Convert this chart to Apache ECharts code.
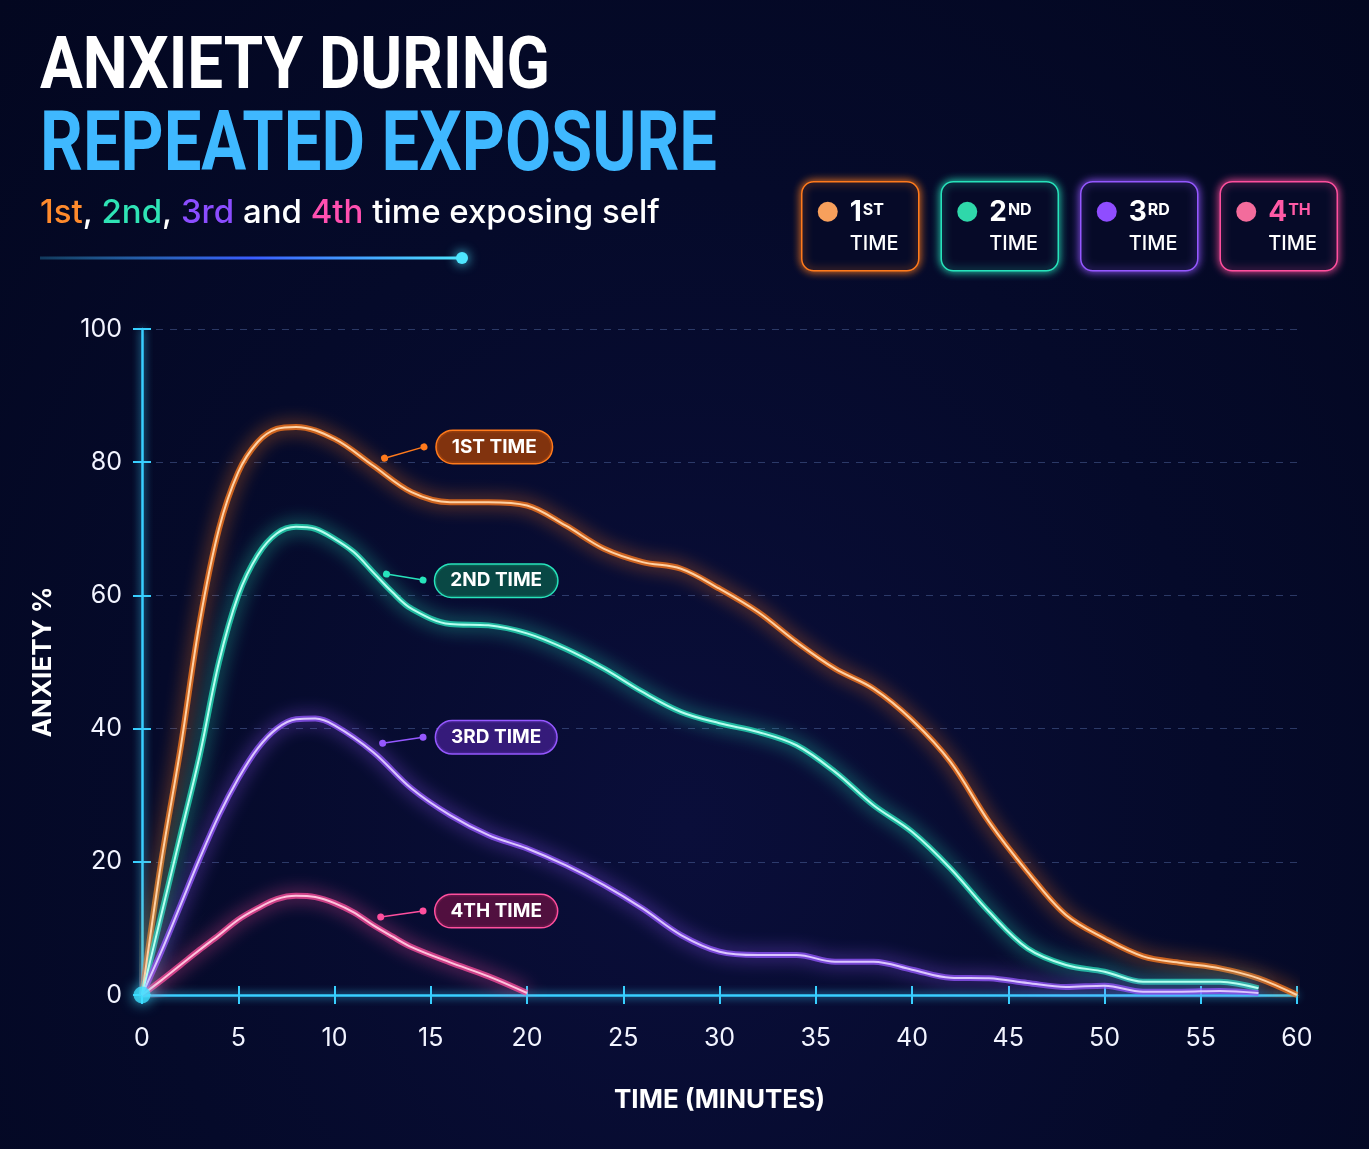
<!DOCTYPE html>
<html>
<head>
<meta charset="utf-8">
<script src="https://cdn.jsdelivr.net/npm/echarts@6/dist/echarts.min.js"></script>
<style>
  html, body { margin: 0; padding: 0; }
  #chart {
    width: 1369px; height: 1149px;
    background: radial-gradient(ellipse at 50% 72%, #0a0e3a 0%, #050a2a 55%, #030720 100%);
  }
</style>
</head>
<body>
<div id="chart"></div>
<script>
// --- data ---
const xTicks = [0, 60, 5]
const yTicks = [0, 100, 20]

const minutesFirst = [0,1,2,3,4,5,6,7,8,10,12,14,16,18,20,22,24,26,28,30,32,34,36,38,40,42,44,46,48,50,52,54,56,58,60]
const firstTime = [0,20,37,56,70,78.5,83,85,85.3,83.5,79.5,75.5,74,74,73.5,70.5,67,65,64,61,57.5,53,49,46,41.3,35,26,18.5,12,8.5,5.8,4.8,4,2.5,0]

const minutesSecond = [0,1,2,3,4,5,6,7,8,9,10,11,12,13,14,16,18,20,22,24,26,28,30,32,34,36,38,40,42,44,46,48,50,52,54,56,58]
const secondTime = [0,12,24,36,50,60,66,69.3,70.3,70,68.5,66.5,63.5,60.5,58,55.7,55.5,54.3,52,49,45.5,42.5,40.8,39.5,37.5,33.5,28.5,24.5,19,12.5,7,4.5,3.5,2,2,2,1]

const minutesThird = [0,1,2,3,4,5,6,7,8,9,10,12,14,16,18,20,22,24,26,28,30,32,34,36,38,40,42,44,46,48,50,52,54,56,58]
const thirdTime = [0,6.5,13.5,20.5,27,32.5,37,40,41.4,41.5,40.5,36.5,31,27,24,22,19.5,16.5,13,9,6.5,6,6,5,5,3.8,2.6,2.5,1.8,1.2,1.4,0.5,0.5,0.6,0.3]

const minutesFourth = [0,1,2,3,4,5,6,7,8,9,10,11,12,13,14,16,18,20]
const fourthTime = [0,2.2,4.5,6.8,9,11.3,13,14.4,14.9,14.7,13.8,12.4,10.5,8.8,7.2,4.9,2.8,0.3]

const seriesNames = ['1st time', '2nd time', '3rd time', '4th time']
const labelTexts = ['1ST TIME', '2ND TIME', '3RD TIME', '4TH TIME']
const legendNumbers = ['1', '2', '3', '4']
const legendSuffixes = ['ST', 'ND', 'RD', 'TH']
// callout positions in data coords [minute, value]
const labelCoords = [[18.3, 82.3], [18.4, 62.2], [18.4, 38.7], [18.4, 12.6]]
const connectorStarts = [[12.6, 80.6], [12.7, 63.2], [12.5, 37.8], [12.4, 11.7]]
const connectorEnds = [[14.65, 82.3], [14.6, 62.3], [14.6, 38.7], [14.6, 12.6]]

const lineColors = ['#ff7a1c', '#27e3bb', '#9558ff', '#ff4f9e']
const coreColors = ['#ffd2a6', '#b8fff0', '#dcc8ff', '#ffc4de']
const dotColors = ['#f7a05c', '#2fd8aa', '#8f4dff', '#f36c9c']
const pillBg = ['rgba(140,55,12,0.92)', 'rgba(10,78,70,0.92)', 'rgba(58,28,128,0.92)', 'rgba(88,16,64,0.92)']

const font = 'Inter, Roboto, sans-serif'
const titleFont = 'Roboto, sans-serif'

const chart = echarts.init(document.getElementById('chart'))

// measuring helper: used to squeeze the title and to place legend superscripts
const measureCtx = document.createElement('canvas').getContext('2d')
function textWidth (text, cssFont) {
  measureCtx.font = cssFont
  return measureCtx.measureText(text).width
}
function squeeze (text, cssFont, targetWidth) {
  return targetWidth / textWidth(text, cssFont)
}

const pairs = (xs, ys) => xs.map((x, i) => [x, ys[i]])
const allData = [
  pairs(minutesFirst, firstTime),
  pairs(minutesSecond, secondTime),
  pairs(minutesThird, thirdTime),
  pairs(minutesFourth, fourthTime)
]

const series = []
allData.forEach((data, i) => {
  // glow layer, carries the callout
  series.push({
    name: seriesNames[i],
    type: 'line',
    data: data,
    smooth: 0.35,
    symbol: 'none',
    z: 3,
    lineStyle: { color: lineColors[i], width: 6, opacity: 0.75, shadowBlur: 18, shadowColor: lineColors[i] },
    markLine: {
      silent: true,
      symbol: ['circle', 'circle'],
      symbolSize: 7,
      label: { show: false },
      lineStyle: { color: lineColors[i], width: 1.5, type: 'solid', opacity: 1 },
      data: [[{ coord: connectorStarts[i] }, { coord: connectorEnds[i] }]]
    },
    markPoint: {
      silent: true,
      symbol: 'circle',
      symbolSize: 2,
      itemStyle: { color: 'rgba(0,0,0,0)' },
      data: [{ coord: labelCoords[i] }],
      label: {
        show: true,
        position: 'inside',
        formatter: labelTexts[i],
        color: '#ffffff',
        fontFamily: font,
        fontWeight: 'bold',
        fontSize: 19,
        backgroundColor: pillBg[i],
        borderColor: lineColors[i],
        borderWidth: 1.5,
        borderRadius: 17,
        padding: [7, 15, 6, 15]
      }
    }
  })
  // bright core
  series.push({
    name: seriesNames[i] + ' core',
    type: 'line',
    data: data,
    smooth: 0.35,
    symbol: 'none',
    z: 4,
    lineStyle: { color: coreColors[i], width: 2 }
  })
})

series.push({
  type: 'scatter',
  data: [[minutesFirst[0], firstTime[0]]],
  symbolSize: 17,
  z: 6,
  itemStyle: { color: '#3fe0ff', shadowBlur: 14, shadowColor: '#3fe0ff' }
})

const axisCyan = '#38cfff'
const numFont = 'bold 28px ' + font

const legendGroups = legendNumbers.map((n, i) => ({
  type: 'group',
  left: 801 + i * 139.5,
  top: 181,
  children: [
    {
      type: 'rect',
      shape: { x: 0, y: 0, width: 117, height: 89, r: 12 },
      style: { fill: '#060a28', stroke: lineColors[i], lineWidth: 1.5, shadowBlur: 8, shadowColor: lineColors[i] }
    },
    { type: 'circle', shape: { cx: 26, cy: 30, r: 10 }, style: { fill: dotColors[i] } },
    {
      type: 'text',
      x: 48, y: 31,
      style: { text: n, fill: i === 3 ? '#ff5aa6' : '#ffffff', font: numFont, verticalAlign: 'middle' }
    },
    {
      type: 'text',
      x: 48 + textWidth(n, numFont) + 1, y: 20,
      style: { text: legendSuffixes[i], fill: i === 3 ? '#ff5aa6' : '#ffffff', font: 'bold 16px ' + font, verticalAlign: 'top' }
    },
    {
      type: 'text',
      x: 48, y: 62,
      style: { text: 'TIME', fill: '#ffffff', font: '500 20px ' + font, verticalAlign: 'middle' }
    }
  ]
}))

const title1Font = 'bold 73px ' + titleFont
const title2Font = 'bold 84px ' + titleFont

const option = {
  backgroundColor: 'transparent',
  animation: false,
  grid: { left: 142, right: 72, top: 329, bottom: 154, containLabel: false },
  xAxis: [
    {
      type: 'value', min: xTicks[0], max: xTicks[1], interval: xTicks[2],
      name: 'TIME (MINUTES)', nameLocation: 'middle', nameGap: 92,
      nameTextStyle: { color: '#ffffff', fontFamily: font, fontWeight: 'bold', fontSize: 26 },
      axisLine: { lineStyle: { color: axisCyan, width: 2.5, shadowBlur: 8, shadowColor: axisCyan } },
      axisTick: { show: true, length: 9, lineStyle: { color: axisCyan, width: 2 } },
      axisLabel: { color: '#f2f4ff', fontFamily: font, fontSize: 25, margin: 31 },
      splitLine: { show: false }
    },
    {
      type: 'value', position: 'bottom', min: xTicks[0], max: xTicks[1], interval: xTicks[2],
      axisLine: { show: false },
      axisTick: { show: true, inside: true, length: 9, lineStyle: { color: axisCyan, width: 2 } },
      axisLabel: { show: false },
      splitLine: { show: false }
    }
  ],
  yAxis: [
    {
      type: 'value', min: yTicks[0], max: yTicks[1], interval: yTicks[2],
      name: 'ANXIETY %', nameLocation: 'middle', nameGap: 86, nameRotate: 90,
      nameTextStyle: { color: '#ffffff', fontFamily: font, fontWeight: 'bold', fontSize: 26 },
      axisLine: { show: true, lineStyle: { color: axisCyan, width: 2.5, shadowBlur: 8, shadowColor: axisCyan } },
      axisTick: { show: true, length: 9, lineStyle: { color: axisCyan, width: 2 } },
      axisLabel: { color: '#f2f4ff', fontFamily: font, fontSize: 25, margin: 20 },
      splitLine: { show: true, lineStyle: { color: 'rgba(90,115,175,0.45)', width: 1, type: [7, 7] } }
    },
    {
      type: 'value', position: 'left', min: yTicks[0], max: yTicks[1], interval: yTicks[2],
      axisLine: { show: false },
      axisTick: { show: true, inside: true, length: 9, lineStyle: { color: axisCyan, width: 2 } },
      axisLabel: { show: false },
      splitLine: { show: false }
    }
  ],
  graphic: [
    {
      type: 'text', x: 40, y: 33,
      scaleX: squeeze('ANXIETY DURING', title1Font, 510),
      style: { text: 'ANXIETY DURING', fill: '#ffffff', font: title1Font, shadowBlur: 8, shadowColor: 'rgba(255,255,255,0.35)' }
    },
    {
      type: 'text', x: 40, y: 107,
      scaleX: squeeze('REPEATED EXPOSURE', title2Font, 677),
      style: {
        text: 'REPEATED EXPOSURE',
        font: title2Font,
        fill: '#3fb8ff',
        shadowBlur: 12, shadowColor: 'rgba(60,190,255,0.5)'
      }
    },
    {
      type: 'text', x: 40, y: 197,
      style: {
        text: '{a|1st}, {b|2nd}, {c|3rd} and {d|4th} time exposing self',
        font: '500 33px ' + font,
        fill: '#ffffff',
        rich: {
          a: { fill: '#ff8a2c', font: '500 33px ' + font },
          b: { fill: '#2fe3b5', font: '500 33px ' + font },
          c: { fill: '#8b4dff', font: '500 33px ' + font },
          d: { fill: '#ff4fb0', font: '500 33px ' + font }
        }
      }
    },
    {
      type: 'line',
      shape: { x1: 40, y1: 258, x2: 462, y2: 258 },
      style: {
        lineWidth: 3,
        stroke: new echarts.graphic.LinearGradient(0, 0, 1, 0, [
          { offset: 0, color: 'rgba(60,200,255,0.25)' },
          { offset: 0.5, color: '#3a5cff' },
          { offset: 1, color: '#4ee6ff' }
        ])
      }
    },
    {
      type: 'circle',
      shape: { cx: 462, cy: 258, r: 6 },
      style: { fill: '#4ee6ff', shadowBlur: 12, shadowColor: '#4ee6ff' }
    }
  ].concat(legendGroups),
  series: series
}

chart.setOption(option)
</script>
</body>
</html>
